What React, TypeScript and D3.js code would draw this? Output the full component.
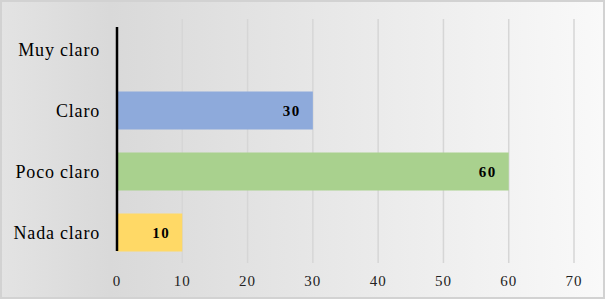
import React from "react";
import * as d3 from "d3";

const categories = ["Muy claro", "Claro", "Poco claro", "Nada claro"];
const values = [0, 30, 60, 10];
const barColors = ["#8eaadb", "#8eaadb", "#a9d18e", "#ffd966"];
const xTicks = [0, 10, 20, 30, 40, 50, 60, 70];

const W = 606;
const H = 300;

export default function App() {
  const x = d3.scaleLinear().domain([0, 70]).range([117, 574]);
  const y = d3.scaleBand<string>().domain(categories).range([19, 263]).paddingInner(0.377).paddingOuter(0.1885);
  const font = "'Liberation Serif', 'Times New Roman', serif";
  return (
    <svg width={W} height={H} style={{ position: "fixed", left: 0, top: 0 }} fontFamily={font}>
      <defs>
        <linearGradient id="bg" x1="0" x2="1" y1="0" y2="0">
          <stop offset="0" stopColor="#e3e3e3" />
          <stop offset="0.18" stopColor="#d9d9d9" />
          <stop offset="0.55" stopColor="#e8e8e8" />
          <stop offset="1" stopColor="#f9f9f9" />
        </linearGradient>
      </defs>
      <rect x={1} y={1} width={W - 3} height={H - 3} fill="url(#bg)" stroke="#d2d2d2" strokeWidth={2} />
      {xTicks.slice(1).map((t) => (
        <line key={"g" + t} x1={x(t)} x2={x(t)} y1={19} y2={263} stroke="#d6d6d6" strokeWidth={1.5} />
      ))}
      {categories.map((c, i) => (
        <g key={c}>
          {values[i] > 0 && (
            <rect x={x(0)} y={y(c)!} width={x(values[i]) - x(0)} height={y.bandwidth()} fill={barColors[i]} />
          )}
          {values[i] > 0 && (
            <text
              x={x(values[i]) - 12}
              y={y(c)! + y.bandwidth() / 2}
              dy="0.35em"
              textAnchor="end"
              fontWeight="bold"
              fontSize={15}
              letterSpacing={1.5}
              fill="#000"
            >
              {values[i]}
            </text>
          )}
          <text
            x={100}
            y={y(c)! + y.bandwidth() / 2}
            dy="0.35em"
            textAnchor="end"
            fontSize={18}
            letterSpacing={0.8}
            fill="#000"
          >
            {c}
          </text>
        </g>
      ))}
      <line x1={x(0)} x2={x(0)} y1={27} y2={251} stroke="#000" strokeWidth={2.5} />
      {xTicks.map((t) => (
        <text key={"t" + t} x={x(t)} y={286} textAnchor="middle" fontSize={15} letterSpacing={1} fill="#222">
          {t}
        </text>
      ))}
    </svg>
  );
}
